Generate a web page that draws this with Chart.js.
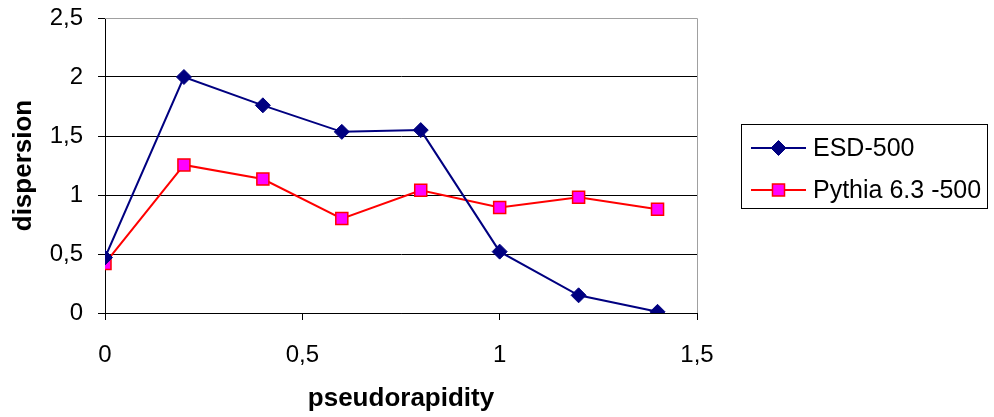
<!DOCTYPE html>
<html>
<head>
<meta charset="utf-8">
<script src="https://cdn.jsdelivr.net/npm/chart.js@4.4.0/dist/chart.umd.min.js"></script>
<style>
  html, body { margin: 0; padding: 0; background: #fff; }
  #wrap { position: relative; width: 994px; height: 417px; }
</style>
</head>
<body>
<div id="wrap"><canvas id="chart" width="994" height="417"></canvas></div>
<script>
// data
const etaValues = [0, 0.2, 0.4, 0.6, 0.8, 1.0, 1.2, 1.4];
const esdValues = [0.47, 2.0, 1.76, 1.535, 1.55, 0.52, 0.15, 0.01];
const pythiaValues = [0.42, 1.255, 1.135, 0.8, 1.04, 0.895, 0.98, 0.88];
const seriesNames = ["ESD-500", "Pythia 6.3 -500"];
const xTitle = "pseudorapidity";
const yTitle = "dispersion";

const FONT = "'Liberation Sans', Arial, sans-serif";
const fmt = (v) => String(Math.round(v * 10) / 10).replace(".", ",");

const toPoints = (ys) => ys.map((y, i) => ({ x: etaValues[i], y: y }));

// plot frame: gray top/right, black left/bottom
const framePlugin = {
  id: "frame",
  afterDraw(chart) {
    const { ctx, chartArea: a } = chart;
    ctx.save();
    ctx.strokeStyle = "#a0a0a0";
    ctx.lineWidth = 1;
    ctx.beginPath();
    ctx.moveTo(a.left, a.top + 0.5);
    ctx.lineTo(a.right + 0.5, a.top + 0.5);
    ctx.lineTo(a.right + 0.5, a.bottom);
    ctx.stroke();
    ctx.restore();
  },
};

// boxed legend on the right
const legendPlugin = {
  id: "boxLegend",
  afterDraw(chart) {
    const { ctx } = chart;
    const box = { x: 741.5, y: 124.5, w: 246, h: 84 };
    ctx.save();
    ctx.strokeStyle = "#000";
    ctx.lineWidth = 1;
    ctx.strokeRect(box.x, box.y, box.w, box.h);
    ctx.font = "25px " + FONT;
    ctx.textBaseline = "middle";
    ctx.fillStyle = "#000";
    chart.data.datasets.forEach((ds, i) => {
      const y = 148 + i * 42;
      ctx.strokeStyle = ds.borderColor;
      ctx.lineWidth = 2;
      ctx.beginPath();
      ctx.moveTo(751, y);
      ctx.lineTo(806, y);
      ctx.stroke();
      ctx.fillStyle = ds.pointBackgroundColor;
      ctx.strokeStyle = ds.pointBorderColor;
      ctx.lineWidth = ds.pointBorderWidth;
      Chart.helpers.drawPoint(ctx, { pointStyle: ds.pointStyle, radius: ds.pointRadius, borderWidth: ds.pointBorderWidth }, 778.5, y);
      ctx.fillStyle = "#000";
      ctx.fillText(ds.label, 813, y + 1);
    });
    ctx.restore();
  },
};

new Chart(document.getElementById("chart"), {
  type: "line",
  data: {
    datasets: [
      {
        label: seriesNames[0],
        data: toPoints(esdValues),
        borderColor: "#000080",
        borderWidth: 2,
        pointStyle: "rectRot",
        pointRadius: 7.5,
        pointBackgroundColor: "#000080",
        pointBorderColor: "#000080",
        pointBorderWidth: 1,
        tension: 0,
      },
      {
        label: seriesNames[1],
        data: toPoints(pythiaValues),
        borderColor: "#ff0000",
        borderWidth: 2,
        pointStyle: "rect",
        pointRadius: 8.5,
        pointBackgroundColor: "#ff00ff",
        pointBorderColor: "#ff0000",
        pointBorderWidth: 1.5,
        tension: 0,
      },
    ],
  },
  options: {
    responsive: false,
    animation: false,
    layout: { padding: { top: 18, right: 297, left: 0, bottom: 0 } },
    plugins: {
      legend: { display: false },
      tooltip: { enabled: false },
    },
    scales: {
      x: {
        type: "linear",
        min: 0,
        max: 1.5,
        afterFit: (s) => { s.height = 104; s.paddingLeft = 0; s.paddingRight = 0; },
        ticks: {
          stepSize: 0.5,
          color: "#000",
          padding: 21,
          maxRotation: 0,
          font: { family: FONT, size: 24 },
          callback: (v) => fmt(v),
        },
        grid: {
          drawOnChartArea: false,
          drawTicks: true,
          tickLength: 7,
          color: "#000",
        },
        border: { color: "#000", width: 1 },
        title: {
          display: true,
          text: xTitle,
          color: "#000",
          font: { family: FONT, size: 26, weight: "bold" },
          padding: { top: 0, bottom: 3 },
        },
      },
      y: {
        min: 0,
        max: 2.5,
        afterFit: (s) => { s.width = 105; s.paddingTop = 0; s.paddingBottom = 0; },
        ticks: {
          stepSize: 0.5,
          color: "#000",
          padding: 15,
          font: { family: FONT, size: 24 },
          callback: (v) => fmt(v),
        },
        grid: {
          color: (c) => (c.tick && c.tick.value === 2.5 ? "#a0a0a0" : "#000"),
          tickColor: "#000",
          tickLength: 7,
          lineWidth: 1,
        },
        border: { color: "#000", width: 1 },
        title: {
          display: true,
          text: yTitle,
          color: "#000",
          font: { family: FONT, size: 26, weight: "bold" },
          padding: { top: 8, bottom: 0 },
        },
      },
    },
  },
  plugins: [framePlugin, legendPlugin],
});
</script>
</body>
</html>
